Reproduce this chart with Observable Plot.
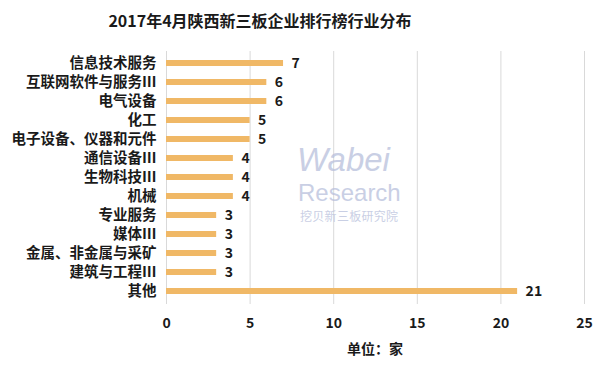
<!DOCTYPE html>
<html>
<head>
<meta charset="utf-8">
<script src="https://cdn.jsdelivr.net/npm/d3@7"></script>
<script src="https://cdn.jsdelivr.net/npm/@observablehq/plot@0.6"></script>
<style>
  body { margin: 0; background: #fff; font-family: "Noto Sans CJK SC", sans-serif; }
  #wrap { position: relative; width: 600px; height: 374px; overflow: hidden; background: #fff; }
  #title { height: 40px; line-height: 40px; width: 520px; text-align: center; font-size: 16px; font-weight: bold; color: #1a1a1a; }
  #xlabel { position: absolute; left: 275px; width: 200px; top: 338px; line-height: 20px; text-align: center; font-size: 14px; font-weight: bold; color: #1a1a1a; }
  .wm { position: absolute; color: #b8bfdc; opacity: 0.75; pointer-events: none; font-family: "Liberation Sans", Arial, sans-serif; white-space: nowrap; line-height: 1; }
</style>
</head>
<body>
<div id="wrap">
  <div id="title">2017年4月陕西新三板企业排行榜行业分布</div>
  <div id="chart"></div>
  <div id="xlabel"></div>
  <div class="wm" style="left:297px;top:143px;font-size:33px;font-style:italic;">Wabei</div>
  <div class="wm" style="left:298px;top:181px;font-size:24px;">Research</div>
  <div class="wm" style="left:300px;top:210px;font-size:12px;font-family:'Noto Sans CJK SC';letter-spacing:0.3px;">挖贝新三板研究院</div>
</div>
<script>
const categories = ["信息技术服务", "互联网软件与服务Ⅲ", "电气设备", "化工", "电子设备、仪器和元件", "通信设备Ⅲ", "生物科技Ⅲ", "机械", "专业服务", "媒体Ⅲ", "金属、非金属与采矿", "建筑与工程Ⅲ", "其他"];
const values = [7, 6, 6, 5, 5, 4, 4, 4, 3, 3, 3, 3, 21];
const xTicks = [0, 5, 10, 15, 20, 25];
const axisTitle = "单位：家";

const data = categories.map((c, i) => ({cat: c, value: values[i]}));
const font = "Noto Sans CJK SC";

const chart = Plot.plot({
  width: 600,
  height: 334,
  marginLeft: 166,
  marginRight: 16,
  marginTop: 11,
  marginBottom: 70,
  style: { fontFamily: font, color: "#1a1a1a", background: "transparent" },
  x: { domain: [0, 25], axis: null },
  y: { domain: categories, paddingInner: 0.667, paddingOuter: 0.32, axis: null },
  marks: [
    Plot.gridX(xTicks, { stroke: "#d9d9d9", strokeOpacity: 1, strokeWidth: 1 }),
    Plot.barX(data, { x: "value", y: "cat", fill: "#F0B866" }),
    Plot.text(data, { x: "value", y: "cat", text: d => String(d.value), textAnchor: "start", dx: 8, fontSize: 14, fontWeight: "bold", fill: "#1a1a1a" }),
    Plot.axisY({ tickSize: 0, tickPadding: 10, fontSize: 14.5, fontWeight: "bold", label: null }),
    Plot.axisX({ ticks: xTicks, tickSize: 0, tickPadding: 14, fontSize: 14, fontWeight: "bold", label: null })
  ]
});
document.getElementById("chart").appendChild(chart);
document.getElementById("xlabel").textContent = axisTitle;
</script>
</body>
</html>
